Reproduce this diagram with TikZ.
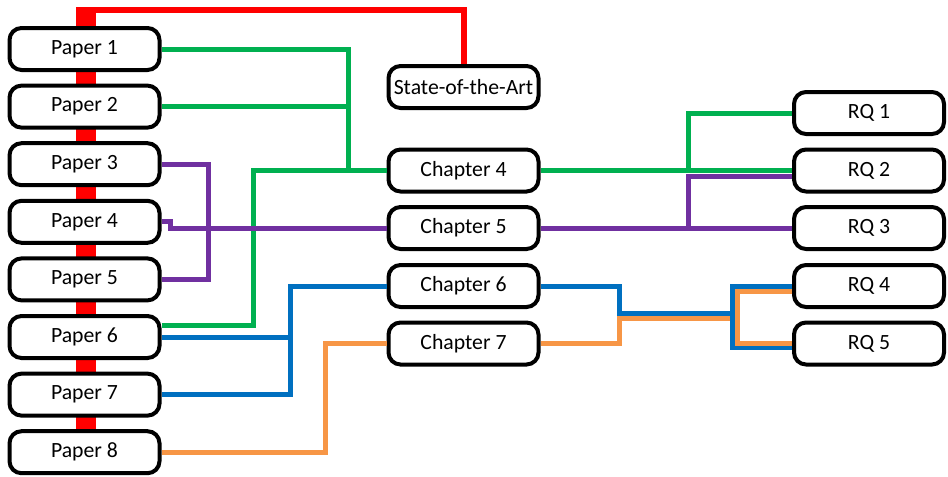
\documentclass[tikz,border=0pt]{standalone}
\usepackage{fontspec}
\setmainfont{Carlito}
\definecolor{lred}{HTML}{FF0000}
\definecolor{lgreen}{HTML}{00B050}
\definecolor{lpurple}{HTML}{7030A0}
\definecolor{lblue}{HTML}{0070C0}
\definecolor{lorange}{HTML}{F79646}
\begin{document}
\begin{tikzpicture}[x=0.75pt,y=-0.75pt,
  box/.style={draw=black, line width=3pt, fill=white, rounded corners=9pt,
    minimum width=112.5pt, minimum height=31.5pt, inner sep=0pt,
    font=\fontsize{16.3}{19}\selectfont},
  link/.style={line width=3.75pt}]
\useasboundingbox (0,0) rectangle (948,476);

% red spine behind the papers and the link to the state of the art
\fill[lred] (76,7) rectangle (96,430);

% papers
\node[box] (p1) at (84.5,49)    {Paper 1};
\node[box] (p2) at (84.5,106.6) {Paper 2};
\node[box] (p3) at (84.5,164.2) {Paper 3};
\node[box] (p4) at (84.5,221.8) {Paper 4};
\node[box] (p5) at (84.5,279.4) {Paper 5};
\node[box] (p6) at (84.5,337)   {Paper 6};
\node[box] (p7) at (84.5,394.6) {Paper 7};
\node[box] (p8) at (84.5,452.2) {Paper 8};

% chapters
\node[box] (sota) at (463.5,87)  {State-of-the-Art};
\node[box] (c4)   at (463.5,170.5) {Chapter 4};
\node[box] (c5)   at (463.5,228)   {Chapter 5};
\node[box] (c6)   at (463.5,286)   {Chapter 6};
\node[box] (c7)   at (463.5,343.5) {Chapter 7};

% research questions
\node[box] (rq1) at (869,113)   {RQ 1};
\node[box] (rq2) at (869,170.5) {RQ 2};
\node[box] (rq3) at (869,228)   {RQ 3};
\node[box] (rq4) at (869,286)   {RQ 4};
\node[box] (rq5) at (869,343.5) {RQ 5};

% red
\draw[lred, line width=4.5pt] (76,10) -| (sota.north);

% green
\draw[link, lgreen] (p1.east) -| (348,170.5);
\draw[link, lgreen] (p2.east) -- (348,106.6);
\draw[link, lgreen] (p6.east |- 0,325) -| (253,170.5) -- (c4.west);
\draw[link, lgreen] (c4.east) -- (rq2.west);
\draw[link, lgreen] (688,170.5) |- (rq1.west);

% purple
\draw[link, lpurple] (p3.east) -| (208,279.4) -- (p5.east);
\draw[link, lpurple] (p4.east |- 0,221) -| (170,228) -- (c5.west);
\draw[link, lpurple] (c5.east) -- (rq3.west);
\draw[link, lpurple] (688,228) |- (rq2.west |- 0,176);

% orange
\draw[link, lorange] (p8.east) -| (325,343.5) -- (c7.west);
\draw[link, lorange] (c7.east) -| (619,318) -- (737,318);

% blue
\draw[link, lblue] (p6.east) -- (290,337);
\draw[link, lblue] (c6.west) -| (290,394.6) -- (p7.east);
\draw[link, lblue] (c6.east) -| (619,313) -| (732,286) -- (rq4.west);
\draw[link, lblue] (732,313) |- (rq5.west |- 0,347);

% orange branches to the research questions
\draw[link, lorange] (rq4.west |- 0,291) -| (737,318) |- (rq5.west);
\end{tikzpicture}
\end{document}
